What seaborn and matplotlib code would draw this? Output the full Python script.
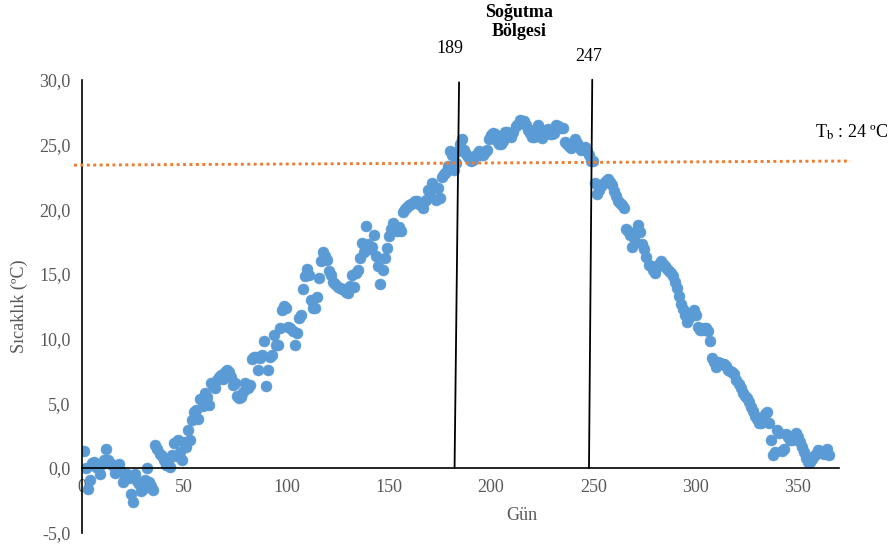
import matplotlib
matplotlib.use("Agg")
import matplotlib.pyplot as plt
from matplotlib.ticker import FuncFormatter, MultipleLocator
import pandas as pd
import seaborn as sns

# daily mean temperature (°C), day 1..365
temps = [
    1.3, 0.0, -1.6, -0.9, 0.4, 0.5, 0.1, 0.2, -0.5, 0.3,
    0.6, 1.5, 0.6, 0.4, 0.2, -0.4, 0.1, 0.3, -0.2, -1.1,
    -0.7, -0.5, -0.8, -2.0, -2.6, -0.5, -1.0, -1.2, -1.8, -1.6,
    -0.9, 0.0, -1.1, -1.4, -1.7, 1.8, 1.5, 1.1, 0.9, 0.6,
    0.2, 0.5, 0.1, 1.0, 1.9, 0.9, 2.2, 1.2, 0.6, 2.0,
    1.6, 2.9, 2.2, 3.7, 4.3, 4.5, 3.8, 5.3, 4.8, 5.8,
    5.5, 4.9, 6.6, 6.4, 6.2, 6.8, 7.0, 7.2, 6.9, 7.4,
    7.6, 7.4, 7.0, 6.4, 6.6, 5.6, 5.4, 5.5, 5.9, 6.6,
    6.2, 6.4, 8.4, 8.6, 8.6, 7.6, 8.5, 8.7, 9.8, 6.3,
    7.6, 8.6, 8.7, 10.3, 9.5, 9.5, 10.8, 12.2, 12.5, 12.4,
    10.9, 10.8, 10.6, 9.5, 10.4, 11.6, 11.8, 13.8, 14.8, 15.4,
    14.9, 13.0, 12.4, 12.4, 13.2, 14.7, 16.0, 16.7, 16.4, 16.1,
    15.2, 14.9, 14.4, 14.2, 14.0, 13.9, 13.8, 13.8, 13.6, 13.5,
    14.1, 14.9, 14.0, 15.1, 15.3, 16.2, 17.4, 16.7, 18.7, 17.3,
    16.9, 17.1, 18.0, 16.4, 15.6, 14.2, 15.3, 16.2, 17.0, 17.9,
    18.5, 18.9, 18.4, 18.3, 18.6, 18.3, 19.8, 20.0, 20.2, 20.3,
    20.4, 20.5, 20.6, 20.6, 20.4, 20.3, 20.1, 20.7, 21.5, 21.3,
    22.0, 21.7, 20.7, 21.6, 20.9, 22.5, 22.7, 22.9, 23.3, 24.5,
    24.2, 23.0, 23.6, 24.5, 25.0, 25.4, 24.6, 24.3, 24.0, 23.7,
    23.8, 24.1, 24.3, 24.5, 24.2, 24.2, 24.4, 24.6, 25.4, 25.7,
    25.9, 25.8, 25.3, 25.0, 25.0, 25.3, 26.0, 26.0, 25.8, 25.6,
    26.0, 26.4, 26.6, 26.9, 26.8, 26.8, 26.5, 26.1, 25.9, 25.6,
    25.6, 26.2, 26.5, 26.0, 25.5, 25.9, 26.1, 26.2, 25.8, 25.8,
    25.9, 26.5, 26.4, 26.3, 26.3, 25.2, 25.0, 24.9, 24.7, 25.0,
    25.4, 25.1, 24.8, 24.6, 24.7, 24.8, 24.5, 24.2, 23.7, 23.7,
    22.0, 21.2, 21.5, 21.8, 22.0, 22.2, 22.3, 22.1, 21.9, 21.4,
    21.0, 20.6, 20.5, 20.3, 20.1, 18.5, 18.3, 18.0, 17.1, 17.8,
    18.2, 18.8, 18.2, 17.3, 16.9, 16.3, 15.7, 15.6, 15.3, 15.1,
    15.5, 15.8, 16.0, 15.8, 15.6, 15.4, 15.2, 15.1, 14.8, 14.4,
    13.9, 13.3, 12.7, 12.3, 11.8, 11.3, 11.6, 12.0, 12.2, 11.8,
    10.9, 10.7, 10.7, 10.8, 10.8, 10.6, 9.8, 8.5, 8.2, 7.8,
    8.2, 8.1, 8.0, 8.0, 7.9, 7.6, 7.5, 7.4, 7.3, 6.8,
    6.5, 6.2, 5.8, 5.6, 5.4, 5.1, 4.7, 4.4, 4.0, 3.8,
    3.5, 3.5, 3.9, 4.2, 4.3, 3.5, 2.2, 1.0, 1.2, 2.9,
    2.7, 1.3, 1.5, 2.6, 2.4, 2.2, 2.2, 2.5, 2.7, 2.4,
    2.0, 1.6, 1.2, 0.8, 0.5, 0.5, 0.7, 0.9, 1.1, 1.4,
    1.3, 1.2, 1.1, 1.5, 1.0,
]
days = list(range(1, len(temps) + 1))

# base temperature line (drawn in the source as a near-flat dotted line)
tb_x = [-3.8, 375.8]
tb_y = [23.4, 23.72]

# cooling-zone boundary lines (slightly slanted in the source)
start_x = [184.4, 182.2]
start_y = [29.8, 0.0]
end_x = [249.5, 247.9]
end_y = [30.0, 0.0]
start_label = "189"
end_label = "247"

BLUE = "#5B9BD5"
ORANGE = "#ED7D31"
GREY = "#595959"

sns.set_style("white")
plt.rcParams["font.family"] = ["Liberation Serif", "DejaVu Serif"]
plt.rcParams["mathtext.fontset"] = "stix"

df = pd.DataFrame({"day": days, "temp": temps})

fig = plt.figure(figsize=(8.91, 5.48), dpi=100)
ax = fig.add_axes([0.0918, 0.0279, 0.8496, 0.8266])

sns.scatterplot(data=df, x="day", y="temp", ax=ax, color=BLUE, s=62,
                edgecolor=BLUE, linewidth=0.4, zorder=2)

ax.plot(tb_x, tb_y, color=ORANGE, linestyle=(0, (1, 1.2)), linewidth=2.1,
        clip_on=False, zorder=3)
ax.plot(start_x, start_y, color="black", linewidth=1.3, clip_on=False, zorder=4)
ax.plot(end_x, end_y, color="black", linewidth=1.3, clip_on=False, zorder=4)

ax.set_xlim(0, 370)
ax.set_ylim(-5, 30)
ax.xaxis.set_major_locator(MultipleLocator(50))
ax.yaxis.set_major_locator(MultipleLocator(5))
ax.yaxis.set_major_formatter(FuncFormatter(lambda v, _: f"{v:.1f}".replace(".", ",")))

for side in ("top", "right"):
    ax.spines[side].set_visible(False)
ax.spines["bottom"].set_position(("data", 0))
for side in ("left", "bottom"):
    ax.spines[side].set_color("black")
    ax.spines[side].set_linewidth(1.2)

ax.tick_params(axis="both", which="major", direction="out", length=4,
               width=1.0, color="black", labelsize=13, labelcolor=GREY)
ax.tick_params(axis="x", pad=4)
ax.tick_params(axis="y", pad=4)
ax.grid(False)

ax.set_xlabel("Gün", fontsize=13, color=GREY)
ax.xaxis.set_label_coords(0.5815, 0.039)
ax.xaxis.label.set_va("center")
ax.set_ylabel("Sıcaklık (ºC)", fontsize=13, color=GREY)
ax.yaxis.set_label_coords(-0.083, 0.5)
ax.yaxis.label.set_va("center")

ax.text(180.0, 32.4, start_label, fontsize=13, ha="center", va="center",
        color="black", clip_on=False)
ax.text(247.7, 31.8, end_label, fontsize=13, ha="center", va="center",
        color="black", clip_on=False)
ax.text(213.7, 34.45, "Soğutma\nBölgesi", fontsize=13, fontweight="bold",
        ha="center", va="center", linespacing=1.15, color="black", clip_on=False)
ax.text(358.4, 25.9, r"T$_\mathrm{b}$ : 24 ºC", fontsize=13, ha="left",
        va="center", color="black", clip_on=False)

fig.savefig("out.png", dpi=100)
plt.close(fig)
